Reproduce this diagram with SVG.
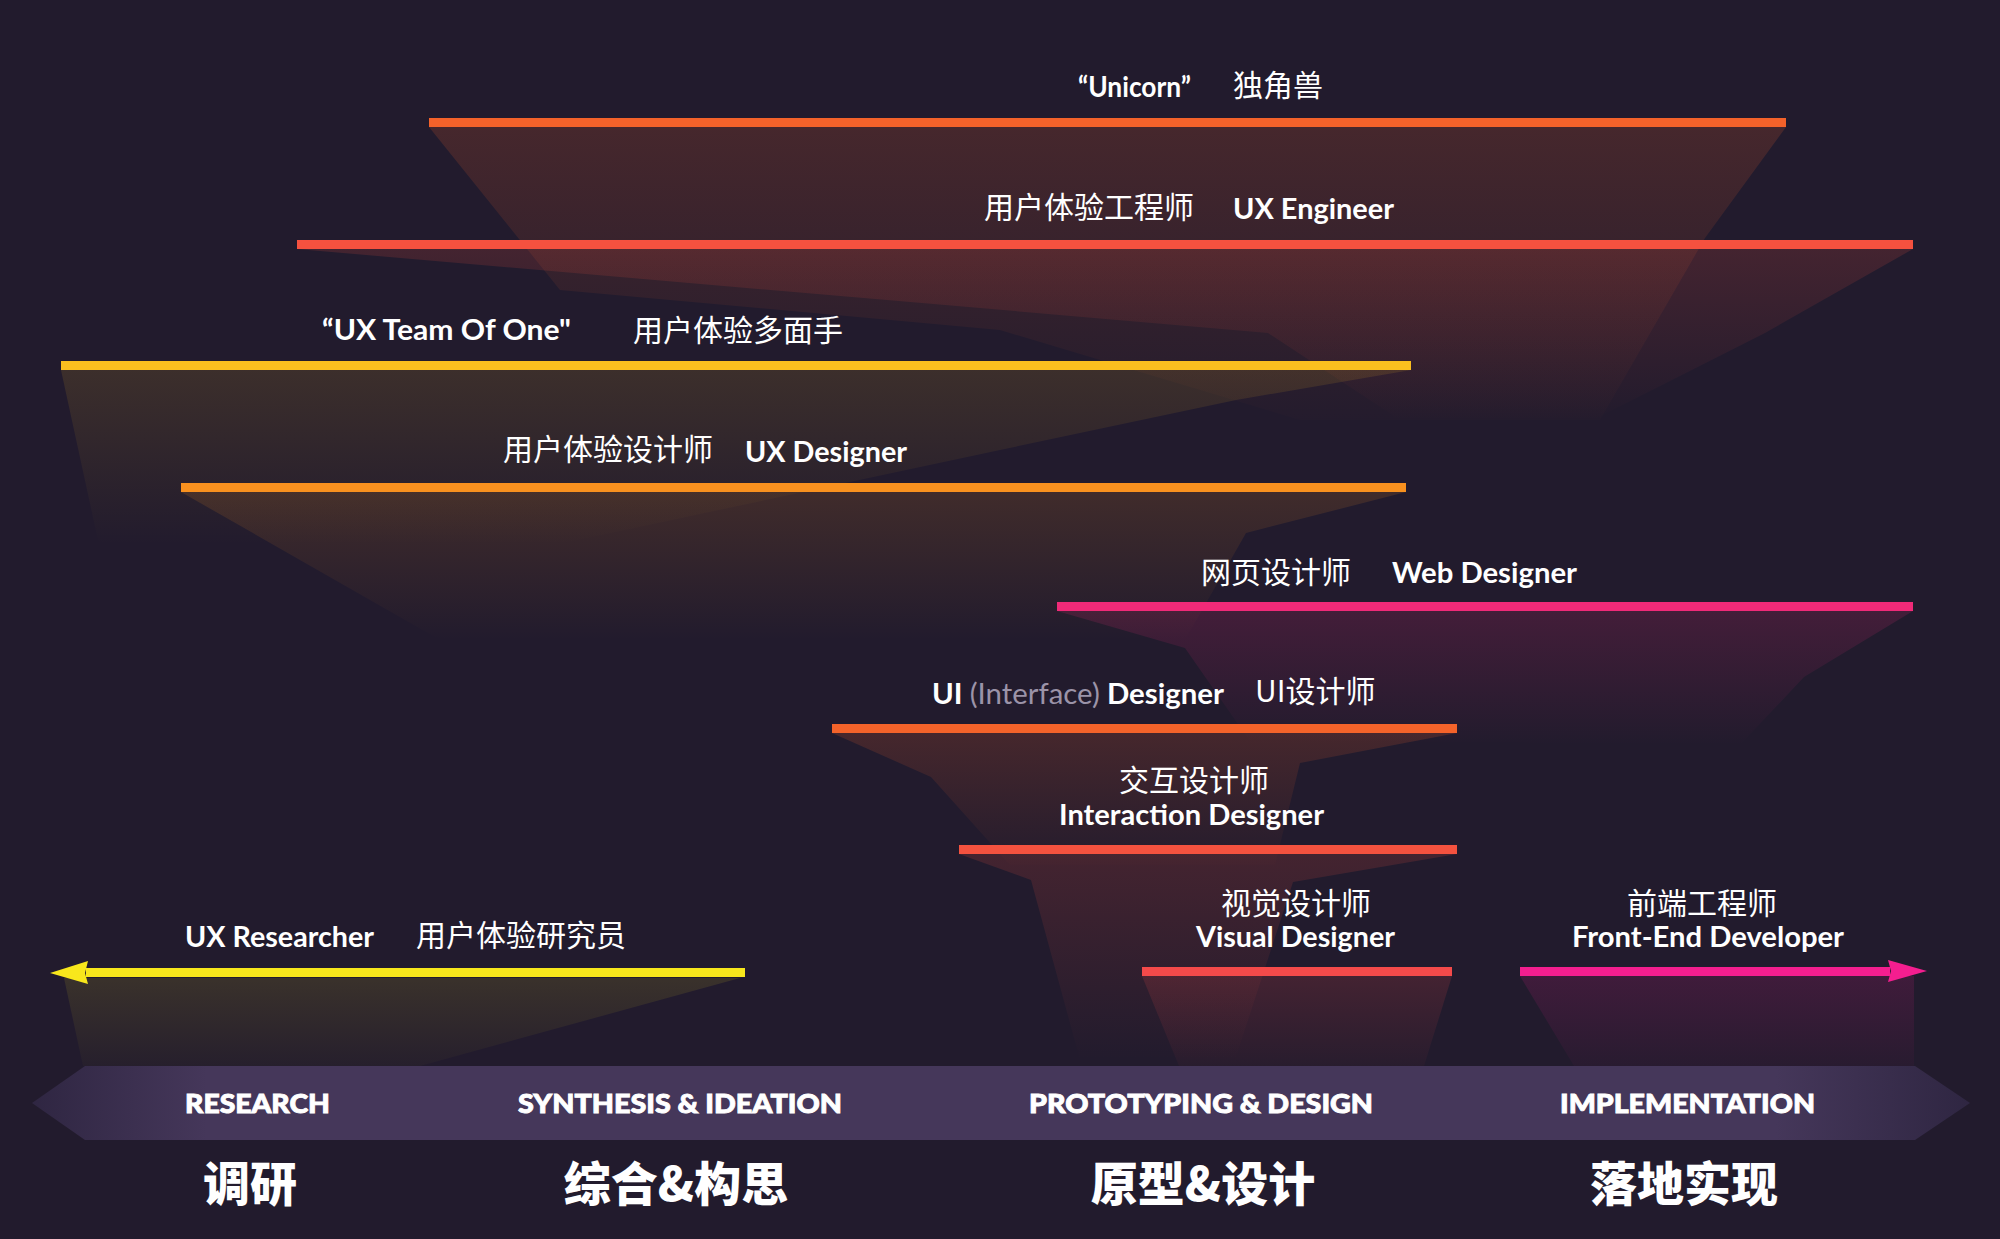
<svg xmlns="http://www.w3.org/2000/svg" width="2000" height="1239" viewBox="0 0 2000 1239">
<defs>
<style>
.en{font-family:Lato,"Liberation Sans",sans-serif;font-weight:700;font-size:28px;fill:#ffffff}
.cn{font-family:"Noto Sans CJK SC",sans-serif;font-weight:400;font-size:30px;fill:#ffffff}
.st{font-family:Lato,"Liberation Sans",sans-serif;font-weight:900;font-size:27px;fill:#ffffff;stroke:#ffffff;stroke-width:0.9px}
.sc{font-family:"Noto Sans CJK SC",sans-serif;font-weight:900;font-size:47px;fill:#ffffff;text-anchor:middle}
.grey{fill:#9b93a8}
</style>
<linearGradient id="gOr" x1="0" y1="0" x2="0" y2="1"><stop offset="0" stop-color="#f4622a" stop-opacity="0.17"/><stop offset="1" stop-color="#f4622a" stop-opacity="0.01"/></linearGradient>
<linearGradient id="gRd" x1="0" y1="0" x2="0" y2="1"><stop offset="0" stop-color="#f5513f" stop-opacity="0.16"/><stop offset="1" stop-color="#f5513f" stop-opacity="0"/></linearGradient>
<linearGradient id="gYe" x1="0" y1="0" x2="0" y2="1"><stop offset="0" stop-color="#fbbf1f" stop-opacity="0.12"/><stop offset="1" stop-color="#fbbf1f" stop-opacity="0"/></linearGradient>
<linearGradient id="gAm" x1="0" y1="0" x2="0" y2="1"><stop offset="0" stop-color="#f8911f" stop-opacity="0.14"/><stop offset="1" stop-color="#f8911f" stop-opacity="0"/></linearGradient>
<linearGradient id="gPk" x1="0" y1="0" x2="0" y2="1"><stop offset="0" stop-color="#f02a78" stop-opacity="0.16"/><stop offset="1" stop-color="#f02a78" stop-opacity="0"/></linearGradient>
<linearGradient id="gVi" x1="0" y1="0" x2="0" y2="1"><stop offset="0" stop-color="#f44a4a" stop-opacity="0.16"/><stop offset="1" stop-color="#f44a4a" stop-opacity="0.03"/></linearGradient>
<linearGradient id="gMg" x1="0" y1="0" x2="0" y2="1"><stop offset="0" stop-color="#f41e8f" stop-opacity="0.14"/><stop offset="1" stop-color="#f41e8f" stop-opacity="0.03"/></linearGradient>
<linearGradient id="gLy" x1="0" y1="0" x2="0" y2="1"><stop offset="0" stop-color="#f8e71c" stop-opacity="0.11"/><stop offset="1" stop-color="#f8e71c" stop-opacity="0.02"/></linearGradient>
<linearGradient id="gBand" x1="0" y1="0" x2="1" y2="0"><stop offset="0" stop-color="#2f2642"/><stop offset="0.09" stop-color="#45375a"/><stop offset="0.9" stop-color="#45375a"/><stop offset="1" stop-color="#2f2642"/></linearGradient>
</defs>
<rect x="0" y="0" width="2000" height="1239" fill="#221b2d"/>

<g id="funnels">
<polygon points="429,127 1786,127 1705,238 1600,420 1300,420 1000,330 560,290" fill="url(#gOr)"/>
<polygon points="297,249 1913,249 1765,333 1593,420 1400,420 1268,333" fill="url(#gRd)"/>
<polygon points="61,370 1411,370 1236,400 1000,450 555,545 99,545" fill="url(#gYe)"/>
<polygon points="181,492 1406,492 1246,533 1185,640 440,640" fill="url(#gAm)"/>
<polygon points="1057,611 1913,611 1804,677 1740,745 1249,740 1185,648" fill="url(#gPk)"/>
<polygon points="832,733 1457,733 1300,763 1275,865 1010,865 931,777" fill="url(#gOr)"/>
<polygon points="959,854 1457,854 1293,882 1235,1060 1080,1060 1031,880" fill="url(#gRd)"/>
<polygon points="1142,976 1452,976 1424,1066 1179,1066" fill="url(#gVi)"/>
<polygon points="1520,976 1914,976 1914,1066 1574,1066" fill="url(#gMg)"/>
<polygon points="64,978 740,978 420,1066 83,1066" fill="url(#gLy)"/>
</g>

<g id="connectors">
<rect x="429" y="118" width="1357" height="9" fill="#f4622a"/>
<rect x="297" y="240" width="1616" height="9" fill="#f5513f"/>
<rect x="61" y="361" width="1350" height="9" fill="#fbbf1f"/>
<rect x="181" y="483" width="1225" height="9" fill="#f8911f"/>
<rect x="1057" y="602" width="856" height="9" fill="#f02a78"/>
<rect x="832" y="724" width="625" height="9" fill="#f4632a"/>
<rect x="959" y="845" width="498" height="9" fill="#f4523f"/>
<rect x="1142" y="967" width="310" height="9" fill="#f44a4a"/>
<rect x="86" y="968" width="659" height="9" fill="#f8e71c"/>
<polygon points="50,973 88,961 85,973 88,984" fill="#f8e71c"/>
<rect x="1520" y="967" width="370" height="9" fill="#f41e8f"/>
<polygon points="1927,971 1888,960 1891,971 1888,982" fill="#f41e8f"/>
</g>

<g id="band">
<polygon points="32,1103 85,1066 1915,1066 1970,1103 1915,1140 85,1140" fill="url(#gBand)"/>
</g>

<g id="node-unicorn">
<text class="en" x="1078" y="97" textLength="113" lengthAdjust="spacingAndGlyphs">“Unicorn”</text>
<text class="cn" x="1233" y="96">独角兽</text>
</g>
<g id="node-ux-engineer">
<text class="cn" x="984" y="218">用户体验工程师</text>
<text class="en" x="1233" y="219" textLength="161" lengthAdjust="spacingAndGlyphs">UX Engineer</text>
</g>
<g id="node-team-of-one">
<text class="en" x="322" y="340" textLength="249" lengthAdjust="spacingAndGlyphs">“UX Team Of One"</text>
<text class="cn" x="633" y="341">用户体验多面手</text>
</g>
<g id="node-ux-designer">
<text class="cn" x="503" y="460">用户体验设计师</text>
<text class="en" x="745" y="462" textLength="162" lengthAdjust="spacingAndGlyphs">UX Designer</text>
</g>
<g id="node-web-designer">
<text class="cn" x="1201" y="583">网页设计师</text>
<text class="en" x="1392" y="583" textLength="185" lengthAdjust="spacingAndGlyphs">Web Designer</text>
</g>
<g id="node-ui-designer">
<text class="en" x="932" y="704" textLength="292" lengthAdjust="spacingAndGlyphs">UI <tspan class="grey" font-weight="400">(Interface)</tspan> Designer</text>
<text class="cn" x="1255" y="702">UI设计师</text>
</g>
<g id="node-interaction-designer">
<text class="cn" x="1194" y="791" text-anchor="middle">交互设计师</text>
<text class="en" x="1059" y="825" textLength="265" lengthAdjust="spacingAndGlyphs">Interaction Designer</text>
</g>
<g id="node-visual-designer">
<text class="cn" x="1296" y="914" text-anchor="middle">视觉设计师</text>
<text class="en" x="1196" y="947" textLength="199" lengthAdjust="spacingAndGlyphs">Visual Designer</text>
</g>
<g id="node-front-end">
<text class="cn" x="1702" y="914" text-anchor="middle">前端工程师</text>
<text class="en" x="1572" y="947" textLength="272" lengthAdjust="spacingAndGlyphs">Front-End Developer</text>
</g>
<g id="node-researcher">
<text class="en" x="185" y="947" textLength="189" lengthAdjust="spacingAndGlyphs">UX Researcher</text>
<text class="cn" x="416" y="946">用户体验研究员</text>
</g>

<g id="stages">
<text class="st" x="185" y="1113" textLength="145" lengthAdjust="spacingAndGlyphs">RESEARCH</text>
<text class="st" x="518" y="1113" textLength="324" lengthAdjust="spacingAndGlyphs">SYNTHESIS &amp; IDEATION</text>
<text class="st" x="1029" y="1113" textLength="344" lengthAdjust="spacingAndGlyphs">PROTOTYPING &amp; DESIGN</text>
<text class="st" x="1560" y="1113" textLength="255" lengthAdjust="spacingAndGlyphs">IMPLEMENTATION</text>
<text class="sc" x="250" y="1201">调研</text>
<text class="sc" x="676" y="1201">综合&amp;构思</text>
<text class="sc" x="1203" y="1201">原型&amp;设计</text>
<text class="sc" x="1684" y="1201">落地实现</text>
</g>
</svg>
